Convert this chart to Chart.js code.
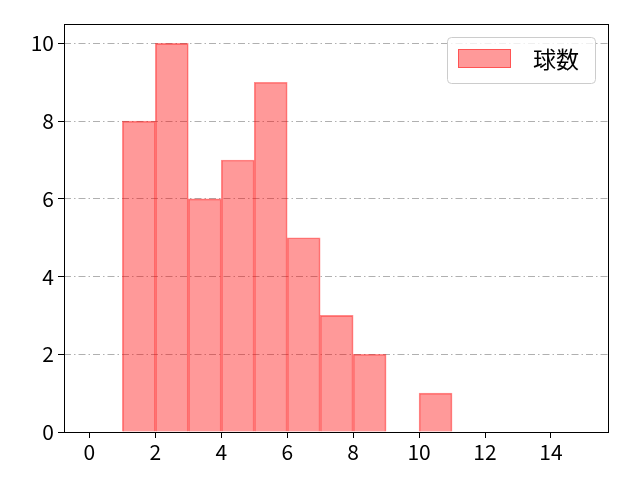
<!DOCTYPE html>
<html>
<head>
<meta charset="utf-8">
<script src="https://cdn.jsdelivr.net/npm/chart.js@4/dist/chart.umd.min.js"></script>
<style>
  html, body { margin: 0; padding: 0; background: #fff; }
  #wrap { width: 640px; height: 480px; }
</style>
</head>
<body>
<div id="wrap"><canvas id="grafico-hist"></canvas></div>
<script>
// bins (left edges) and counts
const binStarts = [1, 2, 3, 4, 5, 6, 7, 8, 10];
const counts = [8, 10, 6, 7, 9, 5, 3, 2, 1];
const xTicks = [0, 2, 4, 6, 8, 10, 12, 14];
const yTicks = [0, 2, 4, 6, 8, 10];
const seriesLabel = '球数';

const FONT = "'Noto Sans CJK JP', 'DejaVu Sans', sans-serif";

// frame + legend drawn inside the plot
const framePlugin = {
  id: 'frame',
  afterDraw(chart) {
    const { ctx, chartArea: a } = chart;
    ctx.save();
    ctx.strokeStyle = '#000';
    ctx.lineWidth = 1;
    ctx.strokeRect(a.left + 0.5, a.top + 0.5, a.right - a.left, a.bottom - a.top);

    // legend box
    const w = 148, h = 46;
    const x = a.right - 13 - w, y = a.top + 13;
    ctx.fillStyle = 'rgba(255,255,255,0.8)';
    ctx.strokeStyle = '#cccccc';
    ctx.beginPath();
    ctx.roundRect(x + 0.5, y + 0.5, w, h, 4);
    ctx.fill();
    ctx.stroke();
    ctx.fillStyle = 'rgba(255,0,0,0.4)';
    ctx.strokeStyle = 'rgba(255,0,0,0.45)';
    ctx.fillRect(x + 11, y + 12, 53, 19);
    ctx.strokeRect(x + 11.5, y + 12.5, 52, 18);
    ctx.fillStyle = '#000';
    ctx.font = '23px ' + FONT;
    ctx.textBaseline = 'middle';
    ctx.fillText(chart.data.datasets[0].label, x + 86, y + 22);
    ctx.restore();
  }
};

const ctxHist = document.getElementById('grafico-hist');
new Chart(ctxHist, {
  type: 'bar',
  data: {
    datasets: [{
      label: seriesLabel,
      data: binStarts.map((b, i) => ({ x: b + 0.5, y: counts[i] })),
      backgroundColor: 'rgba(255, 0, 0, 0.4)',
      borderColor: 'rgba(255, 0, 0, 0.45)',
      borderWidth: 1,
      barPercentage: 1,
      categoryPercentage: 1
    }]
  },
  options: {
    responsive: true,
    maintainAspectRatio: false,
    animation: false,
    layout: { padding: { top: 24, right: 32, left: 0, bottom: 0 } },
    plugins: {
      legend: { display: false },
      tooltip: { enabled: false }
    },
    scales: {
      x: {
        type: 'linear',
        offset: false,
        min: -0.77,
        max: 15.73,
        afterBuildTicks: s => { s.ticks = xTicks.map(v => ({ value: v })); },
        afterFit: s => { s.height = 48; },
        grid: { drawOnChartArea: false, offset: false, tickLength: 6, color: '#000' },
        border: { display: false },
        ticks: { color: '#000', font: { family: FONT, size: 21 }, padding: 1, maxRotation: 0 }
      },
      y: {
        min: 0,
        max: 10.5,
        afterBuildTicks: s => { s.ticks = yTicks.map(v => ({ value: v })); },
        afterFit: s => { s.width = 64; },
        grid: { color: '#b0b0b0', tickColor: '#000', tickLength: 6 },
        border: { display: false, dash: [7, 3, 1.5, 3] },
        ticks: { color: '#000', font: { family: FONT, size: 21 }, padding: 4 }
      }
    }
  },
  plugins: [framePlugin]
});
</script>
</body>
</html>
